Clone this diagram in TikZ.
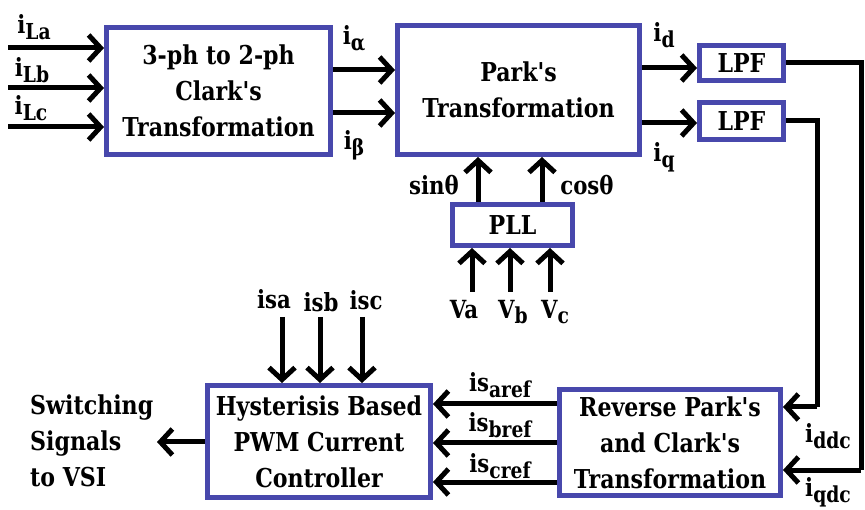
\documentclass[tikz,border=0pt]{standalone}
\usepackage{fontspec}
\setmainfont{DejaVu Serif}[Ligatures=TeXOff, FakeStretch=0.85]
\usetikzlibrary{arrows.meta,positioning}
\definecolor{boxblue}{RGB}{72,72,172}
\newcommand{\lo}[1]{\raisebox{-0.45ex}{\fontsize{22}{22}\selectfont #1}}

\begin{document}
\begin{tikzpicture}[x=1pt, y=-1pt,
  blk/.style={draw=boxblue, line width=5pt, fill=white, align=center, inner sep=0pt,
    font=\bfseries\fontsize{26}{36}\selectfont},
  sig/.style={line width=5pt, -{Straight Barb[length=12pt,width=26pt,line width=5pt]}},
  wire/.style={line width=5pt},
  lbl/.style={font=\bfseries\fontsize{25}{25}\selectfont, inner sep=0pt}]
  \useasboundingbox (0,0) rectangle (865,510);

  % blocks
  \node[blk, minimum width=224pt, minimum height=127pt] (clark) at (218.5,91) {3-ph to 2-ph\\Clark's\\Transformation};
  \node[blk, minimum width=242pt, minimum height=129pt] (park) at (518.5,90) {Park's\\Transformation};
  \node[blk, minimum width=84pt, minimum height=35pt] (lpfd) at (741.5,63) {LPF};
  \node[blk, minimum width=84pt, minimum height=37pt] (lpfq) at (741.5,121) {LPF};
  \node[blk, minimum width=120pt, minimum height=41pt] (pll) at (512.5,225) {PLL};
  \node[blk, minimum width=221pt, minimum height=106pt] (rev) at (670,442.5) {Reverse Park's\\and Clark's\\Transformation};
  \node[blk, minimum width=223pt, minimum height=112pt] (hyst) at (319,441.5) {Hysterisis Based\\PWM Current\\Controller};

  % load currents
  \coordinate (la) at (8,48);
  \coordinate (lb) at (8,88);
  \coordinate (lc) at (8,127);
  \draw[sig] (la) -- (la -| clark.west);
  \draw[sig] (lb) -- (lb -| clark.west);
  \draw[sig] (lc) -- (lc -| clark.west);
  \node[lbl] (ila) at (34,27) {i\lo{La}};
  \node[lbl] (ilb) at (32,70) {i\lo{Lb}};
  \node[lbl] (ilc) at (31,108) {i\lo{Lc}};

  % alpha-beta
  \coordinate (al) at (clark.east |- 0,70);
  \coordinate (be) at (clark.east |- 0,113);
  \draw[sig] (al) -- (al -| park.west);
  \draw[sig] (be) -- (be -| park.west);
  \node[lbl] (ial) at (354,38) {i\lo{α}};
  \node[lbl] (ibe) at (354,145) {i\lo{β}};

  % d-q
  \coordinate (dd) at (park.east |- 0,68);
  \coordinate (qq) at (park.east |- 0,123);
  \draw[sig] (dd) -- (dd -| lpfd.west);
  \draw[sig] (qq) -- (qq -| lpfq.west);
  \node[lbl] (idl) at (664,35) {i\lo{d}};
  \node[lbl] (iql) at (664,157) {i\lo{q}};

  % PLL
  \coordinate (sn) at (pll.north -| 478,0);
  \coordinate (cs) at (pll.north -| 542,0);
  \draw[sig] (sn) -- (sn |- park.south);
  \draw[sig] (cs) -- (cs |- park.south);
  \node[lbl] (sin) at (434,185) {sinθ};
  \node[lbl] (cos) at (587,185) {cosθ};
  \coordinate (va) at (472,292);
  \coordinate (vb) at (510,292);
  \coordinate (vc) at (550,292);
  \draw[sig] (va) -- (va |- pll.south);
  \draw[sig] (vb) -- (vb |- pll.south);
  \draw[sig] (vc) -- (vc |- pll.south);
  \node[lbl] (val) at (464,310) {Va};
  \node[lbl] (vbl) at (513,312) {V\lo{b}};
  \node[lbl] (vcl) at (555,312) {V\lo{c}};

  % dc feedback
  \coordinate (rq) at (817,407);
  \coordinate (rd) at (861,470);
  \draw[wire] (lpfd.east) -| (rd);
  \draw[sig] (rd) -- (rd -| rev.east);
  \draw[wire] (lpfq.east) -| (rq);
  \draw[sig] (rq) -- (rq -| rev.east);
  \node[lbl] (iddc) at (828,436) {i\lo{ddc}};
  \node[lbl] (iqdc) at (828,492) {i\lo{qdc}};

  % reference currents
  \coordinate (ra) at (rev.west |- 0,404);
  \coordinate (rb) at (rev.west |- 0,443);
  \coordinate (rc) at (rev.west |- 0,482);
  \draw[sig] (ra) -- (ra -| hyst.east);
  \draw[sig] (rb) -- (rb -| hyst.east);
  \draw[sig] (rc) -- (rc -| hyst.east);
  \node[lbl] (isar) at (500,385) {is\lo{aref}};
  \node[lbl] (isbr) at (500,425) {is\lo{bref}};
  \node[lbl] (iscr) at (500,466) {is\lo{cref}};

  % sensed currents
  \coordinate (sa) at (282,317);
  \coordinate (sb) at (320,317);
  \coordinate (sc) at (362,317);
  \draw[sig] (sa) -- (sa |- hyst.north);
  \draw[sig] (sb) -- (sb |- hyst.north);
  \draw[sig] (sc) -- (sc |- hyst.north);
  \node[lbl] (isa) at (274,299) {isa};
  \node[lbl] (isb) at (321,302) {isb};
  \node[lbl] (isc) at (366,300) {isc};

  % switching output
  \node[lbl, anchor=west, align=left, font=\bfseries\fontsize{26}{36}\selectfont] (vsi) at (30,441) {Switching\\Signals\\to VSI};
  \coordinate (sw) at (157,442);
  \draw[sig] (sw -| hyst.west) -- (sw);
\end{tikzpicture}
\end{document}
